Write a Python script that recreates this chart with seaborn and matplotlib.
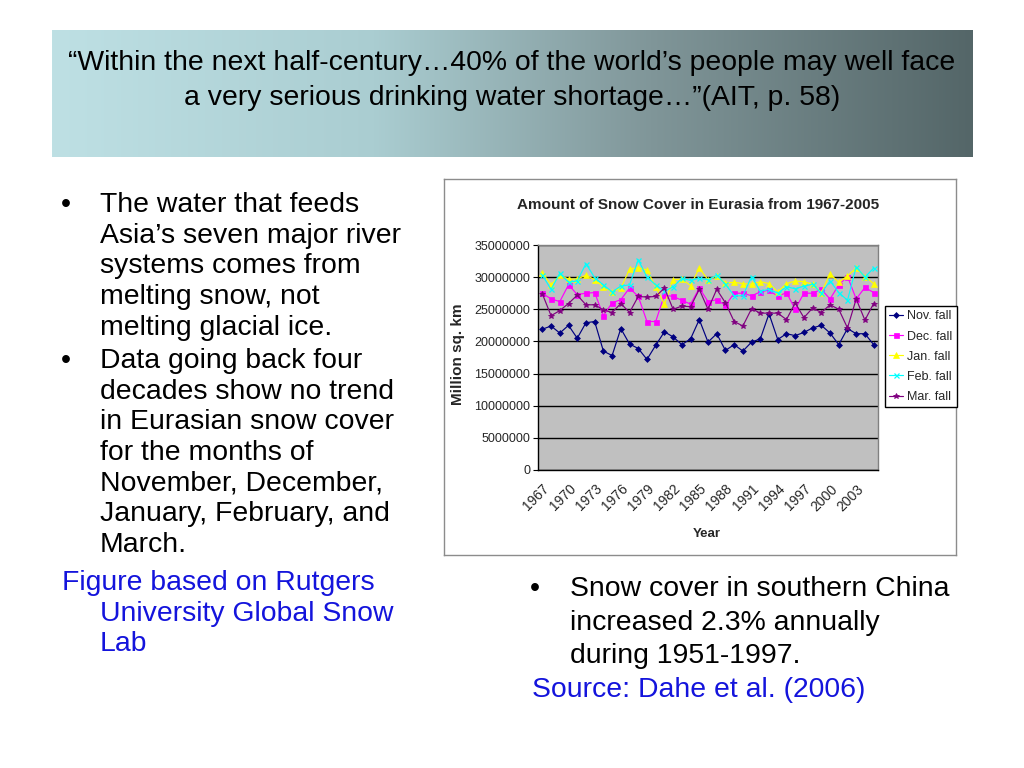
import numpy as np
import pandas as pd
import matplotlib
matplotlib.use("Agg")
import matplotlib.pyplot as plt
from matplotlib.lines import Line2D
from matplotlib.ticker import FixedLocator
from matplotlib import font_manager
import matplotlib.transforms as mtransforms
import seaborn as sns

# ---------------- data ----------------
years = [1967, 1968, 1969, 1970, 1971, 1972, 1973, 1974, 1975, 1976,
         1977, 1978, 1979, 1980, 1981, 1982, 1983, 1984, 1985, 1986,
         1987, 1988, 1989, 1990, 1991, 1992, 1993, 1994, 1995, 1996,
         1997, 1998, 1999, 2000, 2001, 2002, 2003, 2004, 2005]

# values in million sq. km
nov_fall = [21.9, 22.4, 21.3, 22.5, 20.5, 22.9, 23.1, 18.5, 17.8, 22.0,
            19.6, 18.9, 17.2, 19.4, 21.5, 20.7, 19.5, 20.4, 23.4, 19.9,
            21.2, 18.6, 19.5, 18.5, 19.9, 20.4, 24.3, 20.3, 21.2, 20.9,
            21.4, 22.1, 22.5, 21.3, 19.5, 22.0, 21.2, 21.2, 19.5]
dec_fall = [27.5, 26.6, 26.2, 28.8, 27.3, 27.5, 27.6, 24.0, 26.0, 26.5,
            28.3, 27.0, 23.1, 23.1, 27.2, 27.0, 26.4, 25.8, 28.3, 26.2,
            26.5, 25.6, 27.5, 27.5, 27.1, 27.7, 28.0, 27.0, 27.6, 25.0,
            27.5, 27.5, 28.1, 26.6, 28.8, 30.1, 26.6, 28.4, 27.6]
jan_fall = [30.7, 28.8, 30.3, 29.7, 29.7, 30.3, 29.6, 28.5, 27.7, 28.3,
            31.2, 31.5, 31.1, 28.5, 25.8, 29.6, 29.7, 28.7, 31.4, 29.6,
            30.2, 29.1, 29.2, 29.0, 28.9, 29.3, 29.0, 27.7, 29.0, 29.4,
            29.3, 28.9, 27.6, 30.5, 29.2, 30.2, 31.4, 30.1, 29.0]
feb_fall = [30.3, 28.1, 30.6, 29.2, 29.4, 32.1, 29.9, 28.8, 27.7, 28.6,
            28.8, 32.7, 30.0, 28.8, 27.8, 28.5, 29.8, 29.5, 29.8, 29.6,
            30.3, 28.9, 27.1, 27.1, 30.1, 27.8, 28.1, 27.5, 28.5, 28.2,
            28.6, 28.9, 27.5, 29.4, 27.6, 26.4, 31.6, 30.0, 31.4]
mar_fall = [27.4, 24.0, 24.8, 25.9, 27.2, 25.7, 25.7, 24.9, 24.5, 25.9,
            24.5, 27.0, 26.9, 27.0, 28.3, 25.0, 25.5, 25.4, 28.1, 25.0,
            28.1, 26.0, 23.1, 22.4, 25.1, 24.4, 24.4, 24.4, 23.4, 26.0,
            23.7, 25.2, 24.5, 25.7, 25.0, 22.1, 26.6, 23.3, 25.9]

series_names = ["Nov. fall", "Dec. fall", "Jan. fall", "Feb. fall", "Mar. fall"]
series_values = [nov_fall, dec_fall, jan_fall, feb_fall, mar_fall]

x_tick_labels = ["1967", "1970", "1973", "1976", "1979", "1982", "1985",
                 "1988", "1991", "1994", "1997", "2000", "2003"]
y_ticks = [0, 5000000, 10000000, 15000000, 20000000, 25000000, 30000000, 35000000]
y_tick_labels = ["0", "5000000", "10000000", "15000000", "20000000",
                 "25000000", "30000000", "35000000"]

# ---------------- styling ----------------
colors = {"Nov. fall": "#000080", "Dec. fall": "#FF00FF", "Jan. fall": "#FFFF00",
          "Feb. fall": "#00FFFF", "Mar. fall": "#800080"}
markers = {"Nov. fall": "D", "Dec. fall": "s", "Jan. fall": "^",
           "Feb. fall": "x", "Mar. fall": "*"}
msizes = {"Nov. fall": 3.0, "Dec. fall": 3.6, "Jan. fall": 3.8,
          "Feb. fall": 3.6, "Mar. fall": 4.2}
mews = {"Nov. fall": 0.5, "Dec. fall": 0.5, "Jan. fall": 0.5,
        "Feb. fall": 0.9, "Mar. fall": 0.6}

sns.set_theme(style="white")
plt.rcParams["font.family"] = ["Liberation Sans", "DejaVu Sans"]

installed = {f.name for f in font_manager.fontManager.ttflist}
if "Liberation Sans Narrow" in installed:
    chart_font = ["Liberation Sans Narrow", "Liberation Sans"]
    sz_title, sz_ytick, sz_leg, sz_year = 13.0, 10.7, 10.5, 11.0
else:
    chart_font = ["Liberation Sans", "DejaVu Sans"]
    sz_title, sz_ytick, sz_leg, sz_year = 11.0, 9.0, 9.0, 9.5

W, H = 1024, 768
fig = plt.figure(figsize=(W / 100, H / 100), dpi=100)
fig.patch.set_facecolor("white")


def fx(x):
    return x / W


def fy(y):
    return 1 - y / H


# ---------------- banner ----------------
bax = fig.add_axes([fx(52), fy(157), (973 - 52) / W, (157 - 30) / H], zorder=0)
stops = np.array([[0.0, 190, 224, 228],
                  [0.35, 170, 205, 209],
                  [0.65, 128, 150, 153],
                  [1.0, 84, 102, 104]])
t = np.linspace(0, 1, 600)
grad = np.stack([np.interp(t, stops[:, 0], stops[:, i]) for i in (1, 2, 3)], axis=-1) / 255.0
bax.imshow(grad[np.newaxis, :, :], aspect="auto", extent=[0, 1, 0, 1])
bax.set_axis_off()

title_kw = dict(fontsize=20.4, color="black", ha="center", va="baseline")
fig.text(fx(512), fy(70), "\u201cWithin the next half-century\u202640% of the world\u2019s people may well face", **title_kw)
fig.text(fx(512), fy(105), "a very serious drinking water shortage\u2026\u201d(AIT, p. 58)", **title_kw)

# ---------------- body text ----------------
body = dict(fontsize=20.4, color="black", va="baseline", ha="left")
blue = "#1414dc"
left_lines = [
    (212, "The water that feeds", True),
    (243, "Asia\u2019s seven major river", False),
    (273, "systems comes from", False),
    (304, "melting snow, not", False),
    (335, "melting glacial ice.", False),
    (368, "Data going back four", True),
    (399, "decades show no trend", False),
    (429, "in Eurasian snow cover", False),
    (460, "for the months of", False),
    (491, "November, December,", False),
    (521, "January, February, and", False),
    (552, "March.", False),
]
for yb, txt, bullet in left_lines:
    if bullet:
        fig.text(fx(61), fy(yb), "\u2022", **body)
    fig.text(fx(100), fy(yb), txt, **body)

blue_lines = [(62, 590, "Figure based on Rutgers"),
              (100, 621, "University Global Snow"),
              (100, 651, "Lab")]
for xx, yb, txt in blue_lines:
    fig.text(fx(xx), fy(yb), txt, fontsize=20.4, color=blue, va="baseline", ha="left")

fig.text(fx(530), fy(596), "\u2022", **body)
fig.text(fx(570), fy(596), "Snow cover in southern China", **body)
fig.text(fx(570), fy(630), "increased 2.3% annually", **body)
fig.text(fx(570), fy(663), "during 1951-1997.", **body)
fig.text(fx(532), fy(697), "Source: Dahe et al. (2006)", fontsize=20.4, color=blue,
         va="baseline", ha="left")

# ---------------- chart frame ----------------
fax = fig.add_axes([fx(444), fy(555), 512 / W, 376 / H], zorder=1)
fax.set_facecolor("white")
fax.set_xticks([])
fax.set_yticks([])
for s in fax.spines.values():
    s.set_color("#8c8c8c")
    s.set_linewidth(1.0)

ax = fig.add_axes([fx(538), fy(470), 340 / W, 225 / H], zorder=2)
ax.set_facecolor("#C0C0C0")

rows = []
for name, vals in zip(series_names, series_values):
    for i, (yr, v) in enumerate(zip(years, vals)):
        rows.append({"pos": i, "year": yr, "series": name, "value": v * 1_000_000})
df = pd.DataFrame(rows)

for name in series_names:
    c = colors[name]
    sns.lineplot(data=df[df["series"] == name], x="pos", y="value", color=c,
                 marker=markers[name], markersize=msizes[name],
                 markerfacecolor=c, markeredgecolor=c, markeredgewidth=mews[name],
                 linewidth=0.85, legend=False, ax=ax, zorder=3)

ax.set_xlim(-0.5, len(years) - 0.5)
ax.set_ylim(0, 35000000)
ax.set_yticks(y_ticks)
ax.set_yticklabels(y_tick_labels, fontfamily=chart_font, fontsize=sz_ytick)
ax.yaxis.grid(True, color="black", linewidth=1.0)
ax.xaxis.grid(False)
ax.set_axisbelow(True)

label_pos = [years.index(int(s)) for s in x_tick_labels]
ax.set_xticks(label_pos)
ax.set_xticklabels(x_tick_labels, rotation=45, ha="right", va="top", rotation_mode="anchor",
                   fontfamily=["Liberation Sans", "DejaVu Sans"], fontsize=10)
shift = mtransforms.ScaledTranslation(-7 / 100, 0, fig.dpi_scale_trans)
for lab in ax.get_xticklabels():
    lab.set_transform(lab.get_transform() + shift)
ax.xaxis.set_minor_locator(FixedLocator(np.arange(-0.5, len(years), 1.0)))
ax.tick_params(axis="x", which="major", length=0, pad=8.5)
ax.tick_params(axis="x", which="minor", length=3.5, width=0.8, color="black", direction="out")
ax.tick_params(axis="y", which="major", length=3.5, width=0.8, color="black", direction="out",
               pad=2)
ax.tick_params(axis="both", bottom=True, left=True)
for side in ("top", "right"):
    ax.spines[side].set_color("#808080")
    ax.spines[side].set_linewidth(1.0)
ax.spines["left"].set_color("black")
ax.spines["bottom"].set_color("black")
ax.spines["left"].set_linewidth(1.0)
ax.spines["bottom"].set_linewidth(1.0)

ax.set_xlabel("")
ax.set_ylabel("")
fig.text(fx(698), fy(205), "Amount of Snow Cover in Eurasia from 1967-2005",
         fontsize=sz_title, fontweight="bold", ha="center", va="center", fontfamily=chart_font)
fig.text(fx(458), fy(354), "Million sq. km", fontsize=11, fontweight="bold",
         ha="center", va="center", rotation=90)
fig.text(fx(707), fy(534), "Year", fontsize=sz_year, fontweight="bold", ha="center",
         va="center", fontfamily=chart_font)

handles = [Line2D([0], [0], color=colors[n], marker=markers[n], markersize=msizes[n],
                  markerfacecolor=colors[n], markeredgecolor=colors[n],
                  markeredgewidth=mews[n], linewidth=0.85) for n in series_names]
leg = ax.legend(handles, series_names, loc="upper left",
                bbox_to_anchor=(fx(885), fy(306)), bbox_transform=fig.transFigure,
                frameon=True, fancybox=False, edgecolor="black", facecolor="white",
                prop={"family": chart_font, "size": sz_leg},
                handlelength=1.1, handletextpad=0.3, borderpad=0.35,
                labelspacing=0.65, borderaxespad=0.0, framealpha=1.0)
leg.get_frame().set_linewidth(1.0)

fig.savefig("out.png", dpi=100, facecolor="white")
